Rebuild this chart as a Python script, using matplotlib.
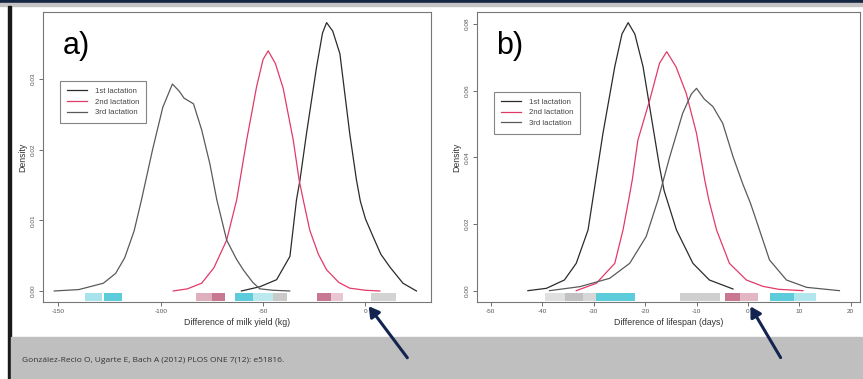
import matplotlib
matplotlib.use("Agg")
import matplotlib.pyplot as plt
from matplotlib.patches import Rectangle, FancyArrowPatch

W, H = 863, 379
plt.rcParams['font.family'] = ['Liberation Sans', 'DejaVu Sans']

# --- data: panel a (milk yield) ---
a_x1 = [-60.6, -51.6, -43.4, -36.9, -33.7, -32, -28.8, -23.9, -21, -19, -16, -12.5, -7.7, -4.4, -2.5, 0, 3.7, 7.5, 11.9, 18.3, 24.9]
a_y1 = [0, 0.0006, 0.0016, 0.0049, 0.0129, 0.0157, 0.0223, 0.0317, 0.0365, 0.0380, 0.0368, 0.0336, 0.0223, 0.0157, 0.0127, 0.0102, 0.0077, 0.0052, 0.0034, 0.0011, 0]
a_x2 = [-93.9, -87, -80, -74, -67.8, -62.9, -58, -53.2, -50, -47.5, -44, -40.2, -35.3, -32.4, -30.4, -27.2, -23, -19, -13, -7.7, 0, 7]
a_y2 = [0, 0.0003, 0.0011, 0.0033, 0.0072, 0.0129, 0.0214, 0.0289, 0.0328, 0.0340, 0.0322, 0.0287, 0.0214, 0.0157, 0.0129, 0.0086, 0.0052, 0.0030, 0.0012, 0.0004, 0.0001, 0]
a_x3 = [-152, -140, -128, -122, -117.6, -113, -109.4, -104, -99, -94.3, -91, -88.6, -84, -80, -76, -72.6, -67.8, -63, -59.7, -55, -51.6, -45, -37]
a_y3 = [0, 0.0002, 0.0011, 0.0025, 0.0047, 0.0085, 0.0129, 0.0200, 0.0260, 0.0293, 0.0283, 0.0273, 0.0265, 0.0228, 0.0180, 0.0129, 0.0072, 0.0045, 0.0030, 0.0012, 0.0003, 0.0001, 0]
a_bands = [(-136.8, -128.5, 'cyan', 0.45), (-127.5, -119, 'cyan', 0.85),
           (-82.6, -75, 'pink', 0.5), (-75, -68.7, 'pink', 0.85),
           (-63.8, -55, 'cyan', 0.85), (-55, -45, 'cyan', 0.35), (-45, -38.5, 'gray', 0.6),
           (-23.9, -17, 'pink', 0.85), (-17, -11, 'pink', 0.35),
           (2.9, 15.1, 'gray', 0.5)]
a_xticks = [-150, -100, -50, 0]
a_yticks = [0.00, 0.01, 0.02, 0.03]

# --- data: panel b (lifespan) ---
b_x1 = [-42.8, -39.2, -35.7, -33.4, -31.1, -30.4, -29.8, -28.2, -25.9, -24.5, -23.3, -22, -20.4, -18.8, -17.2, -16.3, -13.9, -10.7, -7.5, -2.9]
b_y1 = [0, 0.0007, 0.0032, 0.0082, 0.0182, 0.0252, 0.0312, 0.0472, 0.0672, 0.0770, 0.0804, 0.0770, 0.0672, 0.0522, 0.0372, 0.0300, 0.0182, 0.0082, 0.0032, 0.0005]
b_x2 = [-33.4, -29.5, -25.9, -24.3, -23.2, -22.5, -21.4, -19.1, -17.2, -15.8, -14, -12.0, -10.0, -8.4, -7.6, -6.1, -3.6, -0.3, 2.9, 6, 10.7]
b_y2 = [0, 0.0022, 0.0082, 0.0182, 0.0272, 0.0332, 0.0452, 0.0572, 0.0682, 0.0717, 0.0672, 0.0592, 0.0472, 0.0332, 0.0272, 0.0182, 0.0082, 0.0032, 0.0013, 0.0004, 0]
b_x3 = [-38.6, -32.7, -26.9, -23.0, -19.8, -17.5, -15.2, -12.7, -11, -10.0, -8.5, -6.8, -4.9, -2.9, -1.0, 0.5, 1.6, 4.2, 7.5, 11.4, 17.8]
b_y3 = [0, 0.0012, 0.0037, 0.0082, 0.0162, 0.0272, 0.0402, 0.0532, 0.0590, 0.0607, 0.0575, 0.0552, 0.0502, 0.0402, 0.0320, 0.0262, 0.0212, 0.0092, 0.0032, 0.0010, 0]
b_bands = [(-39.5, -35.5, 'gray', 0.35), (-35.5, -32, 'gray', 0.7), (-32, -29.5, 'gray', 0.45),
           (-29.5, -22, 'cyan', 0.85),
           (-13.3, -5.5, 'gray', 0.55),
           (-4.5, -1.5, 'pink', 0.85), (-1.5, 1.9, 'pink', 0.45),
           (4.2, 9, 'cyan', 0.85), (9, 13.3, 'cyan', 0.4)]
b_xticks = [-50, -40, -30, -20, -10, 0, 10, 20]
b_yticks = [0.00, 0.02, 0.04, 0.06, 0.08]

labels = ["1st lactation", "2nd lactation", "3rd lactation"]
line_cols = ["#2b2b2b", "#e23a68", "#5a5a5a"]
band_cols = {'cyan': '#3fc2d4', 'pink': '#c0607e', 'gray': '#a8a8a8'}
citation = "González-Recio O, Ugarte E, Bach A (2012) PLOS ONE 7(12): e51816."

def fbox(l, t, r, b):
    return [l / W, 1 - b / H, (r - l) / W, (b - t) / H]

fig = plt.figure(figsize=(W / 100, H / 100), dpi=100)
fig.patch.set_facecolor("white")

# slide frame
fig.add_artist(Rectangle((0, 1 - 3 / H), 1, 3 / H, transform=fig.transFigure, color="#152642", zorder=0))
fig.add_artist(Rectangle((0, 1 - 6 / H), 1, 3 / H, transform=fig.transFigure, color="#c4c4c4", zorder=0))
fig.add_artist(Rectangle((8 / W, 0), 3 / W, 1 - 6 / H, transform=fig.transFigure, color="#1a1a1a", zorder=0))
fig.add_artist(Rectangle((11 / W, 0), 1, 42 / H, transform=fig.transFigure, color="#bfbfbf", zorder=0))
fig.text(22 / W, 1 - 360 / H, citation, fontsize=6.0, color="#333333", va="center",
         family=['Open Sans', 'DejaVu Sans'])


def panel(box, xs, ys, bands, xlim, ylim, xticks, yticks, xlabel, tag, leg_anchor):
    ax = fig.add_axes(fbox(*box))
    for x, y, c, lab in zip(xs, ys, line_cols, labels):
        ax.plot(x, y, color=c, lw=0.9, label=lab)
    for x0, x1, c, al in bands:
        ax.axvspan(x0, x1, ymin=0.004, ymax=0.032, color=band_cols[c], alpha=al, lw=0)
    ax.set_xlim(*xlim)
    ax.set_ylim(*ylim)
    ax.set_xticks(xticks)
    ax.set_yticks(yticks)
    ax.set_xticklabels([f"{t:g}" for t in xticks])
    ax.set_yticklabels([f"{t:.2f}" for t in yticks], rotation=90, va="center")
    ax.tick_params(labelsize=4.6, colors="#555555", length=3, width=0.6, pad=2)
    for s in ax.spines.values():
        s.set_color("#777777")
        s.set_linewidth(0.8)
    ax.set_xlabel(xlabel, fontsize=6.3, color="#333333", labelpad=3)
    ax.set_ylabel("Density", fontsize=6.3, color="#333333", labelpad=3)
    ax.text(0.05, 0.935, tag, transform=ax.transAxes, fontsize=22, va="top", ha="left")
    leg = ax.legend(loc="upper left", bbox_to_anchor=leg_anchor, fontsize=5.6, frameon=True,
                    fancybox=False, handlelength=2.6, borderpad=0.85, labelspacing=0.4,
                    handletextpad=1.0)
    leg.get_frame().set_edgecolor("#666666")
    leg.get_frame().set_linewidth(0.8)
    for t in leg.get_texts():
        t.set_color("#444444")
    return ax

panel((43, 12, 431, 302), [a_x1, a_x2, a_x3], [a_y1, a_y2, a_y3], a_bands,
      (-157.5, 32), (-0.00156, 0.0395), a_xticks, a_yticks,
      "Difference of milk yield (kg)", "a)", (0.034, 0.775))
panel((477, 12, 860, 302), [b_x1, b_x2, b_x3], [b_y1, b_y2, b_y3], b_bands,
      (-52.7, 21.8), (-0.0034, 0.0836), b_xticks, b_yticks,
      "Difference of lifespan (days)", "b)", (0.034, 0.738))

# arrows
for tail, head in [((409, 360), (367, 304)), ((782, 360), (749, 304))]:
    arr = FancyArrowPatch((tail[0] / W, 1 - tail[1] / H), (head[0] / W, 1 - head[1] / H),
                          transform=fig.transFigure, arrowstyle="-|>,head_length=6,head_width=3.5",
                          color="#132451", lw=2.2, zorder=10)
    fig.add_artist(arr)

fig.savefig("out.png", dpi=100)
